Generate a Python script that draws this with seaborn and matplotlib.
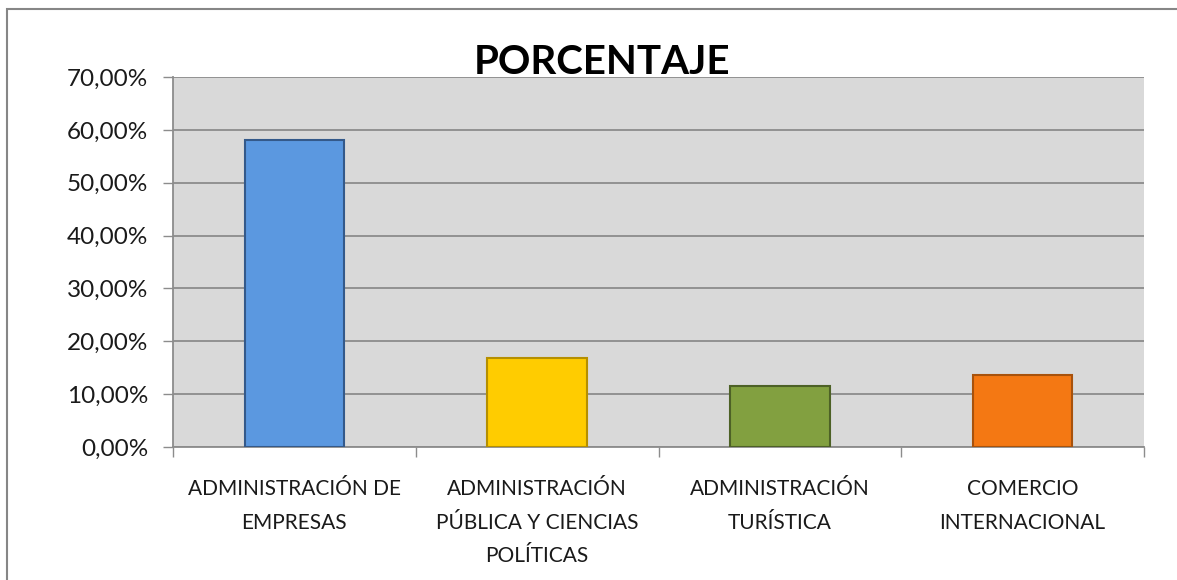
import matplotlib
matplotlib.use('Agg')
import matplotlib.pyplot as plt
import matplotlib.patches as mpatches
from matplotlib.ticker import FuncFormatter, FixedLocator
import seaborn as sns

# Chart data (percent of total)
categories = ["ADMINISTRACIÓN DE\nEMPRESAS",
              "ADMINISTRACIÓN\nPÚBLICA Y CIENCIAS\nPOLÍTICAS",
              "ADMINISTRACIÓN\nTURÍSTICA",
              "COMERCIO\nINTERNACIONAL"]
values = [58.0, 16.8, 11.6, 13.6]
bar_colors = ["#5B98E0", "#FFCC00", "#82A040", "#F47813"]
edge_colors = ["#34598A", "#B58F00", "#4D6126", "#A8520C"]
y_ticks = [0, 10, 20, 30, 40, 50, 60, 70]
title = "PORCENTAJE"

sns.set_style("white")
plt.rcParams['font.family'] = ['Lato', 'DejaVu Sans']

fig = plt.figure(figsize=(11.77, 5.80), dpi=100)
ax = fig.add_axes([173 / 1177, 1 - 447 / 580, (1144 - 173) / 1177, (447 - 77) / 580])
ax.set_facecolor("#D9D9D9")

sns.barplot(x=categories, y=values, hue=categories, palette=bar_colors,
            saturation=1, legend=False, width=0.41, ax=ax, zorder=3)
for patch, ec in zip(ax.patches, edge_colors):
    patch.set_edgecolor(ec)
    patch.set_linewidth(1.5)

ax.set_xlim(-0.5, len(categories) - 0.5)
ax.set_ylim(0, 70)
ax.yaxis.set_major_locator(FixedLocator(y_ticks))
ax.yaxis.set_major_formatter(FuncFormatter(lambda v, p: f"{v:.2f}%".replace('.', ',')))
ax.grid(axis='y', color="#8C8C8C", linewidth=1.3, zorder=1)
ax.set_axisbelow(True)

# boundary ticks between categories
ax.set_xticks([i - 0.5 for i in range(len(categories) + 1)], minor=True)
ax.tick_params(axis='x', which='major', length=0, pad=23, labelsize=15, labelcolor="#1A1A1A")
ax.tick_params(axis='x', which='minor', length=7, width=1, color="#8C8C8C", direction='out', bottom=True)
ax.tick_params(axis='y', length=7, width=1, color="#8C8C8C", direction='out', left=True,
               pad=11, labelsize=17.5, labelcolor="#1A1A1A")
for lab in ax.get_xticklabels():
    lab.set_linespacing(1.85)

for s in ['top', 'right']:
    ax.spines[s].set_visible(False)
for s in ['left', 'bottom']:
    ax.spines[s].set_color("#8C8C8C")
    ax.spines[s].set_linewidth(1.3)
ax.set_xlabel("")
ax.set_ylabel("")

fig.text(602 / 1177, 1 - 62 / 580, title, ha='center', va='center',
         fontsize=29, fontweight='bold', color="#000000")

# chart frame (left and top edges visible)
fig.patches.append(mpatches.Rectangle((7 / 1177, -1.0), 2.0, 1.0 + (580 - 9) / 580,
                                      transform=fig.transFigure, fill=False,
                                      edgecolor="#868686", linewidth=1.5))

fig.savefig("out.png", dpi=100)
